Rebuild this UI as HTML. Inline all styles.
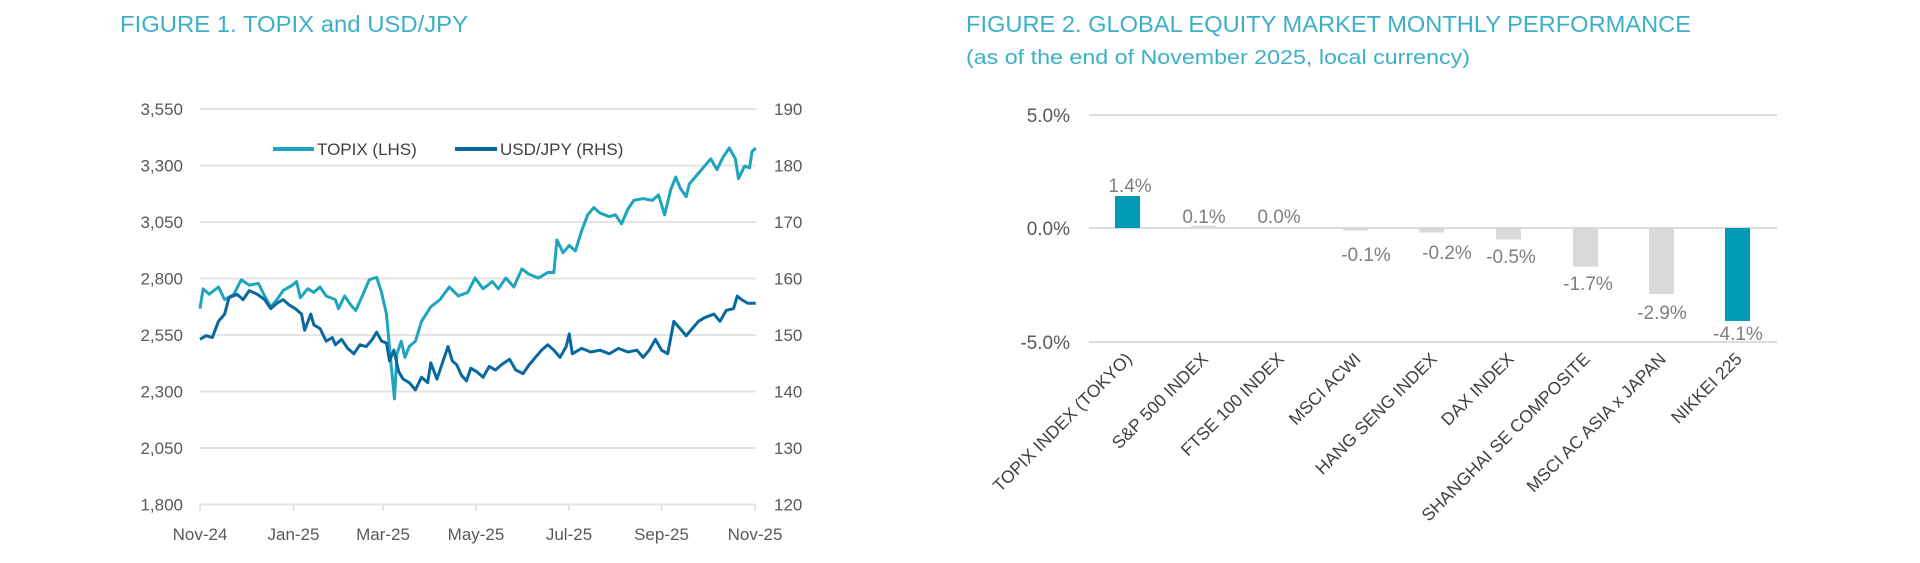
<!DOCTYPE html>
<html><head><meta charset="utf-8"><style>
html,body{margin:0;padding:0;background:#fff;}
svg{display:block;font-family:"Liberation Sans",sans-serif;}
</style></head><body>
<svg width="1920" height="563" viewBox="0 0 1920 563" xmlns="http://www.w3.org/2000/svg">
<!-- LEFT CHART -->
<text x="120" y="32" font-size="23" fill="#3bb0c6" textLength="348" lengthAdjust="spacingAndGlyphs">FIGURE 1. TOPIX and USD/JPY</text>
<g stroke="#e4e4e4" stroke-width="2">
<line x1="200" y1="109" x2="756" y2="109"/>
<line x1="200" y1="165.5" x2="756" y2="165.5"/>
<line x1="200" y1="222" x2="756" y2="222"/>
<line x1="200" y1="278.5" x2="756" y2="278.5"/>
<line x1="200" y1="335" x2="756" y2="335"/>
<line x1="200" y1="391.5" x2="756" y2="391.5"/>
<line x1="200" y1="448" x2="756" y2="448"/>
<line x1="200" y1="504.5" x2="756" y2="504.5"/>
<line x1="200" y1="504" x2="200" y2="511"/>
<line x1="293.5" y1="504" x2="293.5" y2="511"/>
<line x1="383" y1="504" x2="383" y2="511"/>
<line x1="476" y1="504" x2="476" y2="511"/>
<line x1="569" y1="504" x2="569" y2="511"/>
<line x1="661.5" y1="504" x2="661.5" y2="511"/>
<line x1="755" y1="504" x2="755" y2="511"/>
</g>
<g font-size="17" fill="#595959" text-anchor="end">
<text x="183" y="115">3,550</text><text x="183" y="171.5">3,300</text><text x="183" y="228">3,050</text>
<text x="183" y="284.5">2,800</text><text x="183" y="341">2,550</text><text x="183" y="397.5">2,300</text>
<text x="183" y="454">2,050</text><text x="183" y="510.5">1,800</text>
</g>
<g font-size="17" fill="#595959">
<text x="774" y="115">190</text><text x="774" y="171.5">180</text><text x="774" y="228">170</text>
<text x="774" y="284.5">160</text><text x="774" y="341">150</text><text x="774" y="397.5">140</text>
<text x="774" y="454">130</text><text x="774" y="510.5">120</text>
</g>
<g font-size="17" fill="#595959" text-anchor="middle">
<text x="200" y="540">Nov-24</text><text x="293.5" y="540">Jan-25</text><text x="383" y="540">Mar-25</text>
<text x="476" y="540">May-25</text><text x="569" y="540">Jul-25</text><text x="661.5" y="540">Sep-25</text><text x="755" y="540">Nov-25</text>
</g>
<line x1="273" y1="149" x2="314" y2="149" stroke="#1ea5bd" stroke-width="4"/>
<text x="317" y="155" font-size="17" fill="#404040">TOPIX (LHS)</text>
<line x1="455" y1="149" x2="497" y2="149" stroke="#0a68a0" stroke-width="4"/>
<text x="500" y="155" font-size="17" fill="#404040">USD/JPY (RHS)</text>
<g transform="scale(0.6154,0.361)" fill="none" stroke-linejoin="round">
<polyline vector-effect="non-scaling-stroke" stroke="#1ea5bd" stroke-width="3" points="325,855 330,800 340,815 355,795 365,830 380,815 392,775 405,790 420,785 430,820 440,850 450,830 460,805 475,790 482,780 488,825 500,800 510,810 520,795 530,820 545,830 550,855 560,820 570,845 578,860 590,815 600,775 612,768 620,810 628,870 635,1000 641,1105 645,980 652,945 658,990 665,960 675,945 685,890 700,850 715,830 730,795 745,820 760,810 772,770 785,800 800,780 810,800 822,770 835,795 848,745 860,760 875,770 890,755 900,755 905,665 915,700 925,680 935,695 945,640 955,595 965,575 975,590 990,600 1000,595 1010,620 1020,580 1030,555 1045,550 1060,555 1070,540 1080,595 1090,525 1098,490 1105,520 1115,545 1120,510 1135,480 1145,460 1155,440 1165,470 1175,435 1185,410 1195,440 1200,495 1210,460 1218,465 1222,420 1228,410"/>
<polyline vector-effect="non-scaling-stroke" stroke="#0a68a0" stroke-width="3" points="325,940 335,930 345,935 355,890 365,870 372,825 385,815 395,830 405,805 418,815 430,830 440,855 450,840 460,830 470,845 480,855 490,870 495,915 505,870 510,900 520,910 530,945 540,935 545,955 555,940 565,965 575,980 585,955 595,960 605,940 612,920 620,945 628,950 633,1000 640,970 648,1030 655,1050 665,1060 675,1080 685,1045 695,1060 700,1005 710,1050 720,1000 728,960 735,1000 742,1010 750,1040 758,1055 765,1020 775,1030 785,1045 795,1015 805,1025 815,1010 828,995 838,1025 850,1035 860,1010 870,990 880,970 890,955 900,970 910,990 920,960 925,925 930,980 945,965 960,975 975,970 990,980 1005,965 1020,975 1035,970 1045,990 1055,970 1065,940 1075,970 1085,980 1095,890 1105,910 1115,930 1125,910 1135,890 1145,880 1160,870 1170,890 1180,860 1192,855 1198,820 1205,830 1215,840 1228,840"/>
</g>

<!-- RIGHT CHART -->
<text x="966" y="32" font-size="23" fill="#3bb0c6" textLength="725" lengthAdjust="spacingAndGlyphs">FIGURE 2. GLOBAL EQUITY MARKET MONTHLY PERFORMANCE</text>
<text x="966" y="64" font-size="20" fill="#3bb0c6" textLength="504" lengthAdjust="spacingAndGlyphs">(as of the end of November 2025, local currency)</text>
<g stroke="#dcdcdc" stroke-width="2">
<line x1="1089" y1="115" x2="1777" y2="115"/>
<line x1="1089" y1="228" x2="1777" y2="228"/>
<line x1="1089" y1="342" x2="1777" y2="342"/>
</g>
<g font-size="19" fill="#595959" text-anchor="end">
<text x="1070" y="122">5.0%</text><text x="1070" y="235">0.0%</text><text x="1070" y="349">-5.0%</text>
</g>
<g>
<rect x="1115" y="196" width="25" height="32" fill="#009ab4"/>
<rect x="1191" y="225.7" width="25" height="2.3" fill="#d9d9d9"/>
<rect x="1267" y="227" width="25" height="1.5" fill="#d9d9d9"/>
<rect x="1343" y="228" width="25" height="2.5" fill="#d9d9d9"/>
<rect x="1419" y="228" width="25" height="4.5" fill="#d9d9d9"/>
<rect x="1496" y="228" width="25" height="11.5" fill="#d9d9d9"/>
<rect x="1573" y="228" width="25" height="38.6" fill="#d9d9d9"/>
<rect x="1649" y="228" width="25" height="66" fill="#d9d9d9"/>
<rect x="1725" y="228" width="25" height="93" fill="#009ab4"/>
</g>
<g font-size="19" fill="#7f7f7f" text-anchor="middle">
<text x="1130" y="192">1.4%</text><text x="1204" y="223">0.1%</text><text x="1279" y="223">0.0%</text>
<text x="1366" y="261">-0.1%</text><text x="1447" y="259">-0.2%</text><text x="1511" y="263">-0.5%</text>
<text x="1588" y="290">-1.7%</text><text x="1662" y="319">-2.9%</text><text x="1738" y="340">-4.1%</text>
</g>
<g font-size="17.5" fill="#404040" text-anchor="end">
<text transform="translate(1133,360) rotate(-45)">TOPIX INDEX (TOKYO)</text>
<text transform="translate(1209,360) rotate(-45)">S&amp;P 500 INDEX</text>
<text transform="translate(1285,360) rotate(-45)">FTSE 100 INDEX</text>
<text transform="translate(1362,360) rotate(-45)">MSCI ACWI</text>
<text transform="translate(1438,360) rotate(-45)">HANG SENG INDEX</text>
<text transform="translate(1515,360) rotate(-45)">DAX INDEX</text>
<text transform="translate(1591,360) rotate(-45)">SHANGHAI SE COMPOSITE</text>
<text transform="translate(1667,360) rotate(-45)">MSCI AC ASIA x JAPAN</text>
<text transform="translate(1743,360) rotate(-45)">NIKKEI 225</text>
</g>
</svg>
</body></html>
